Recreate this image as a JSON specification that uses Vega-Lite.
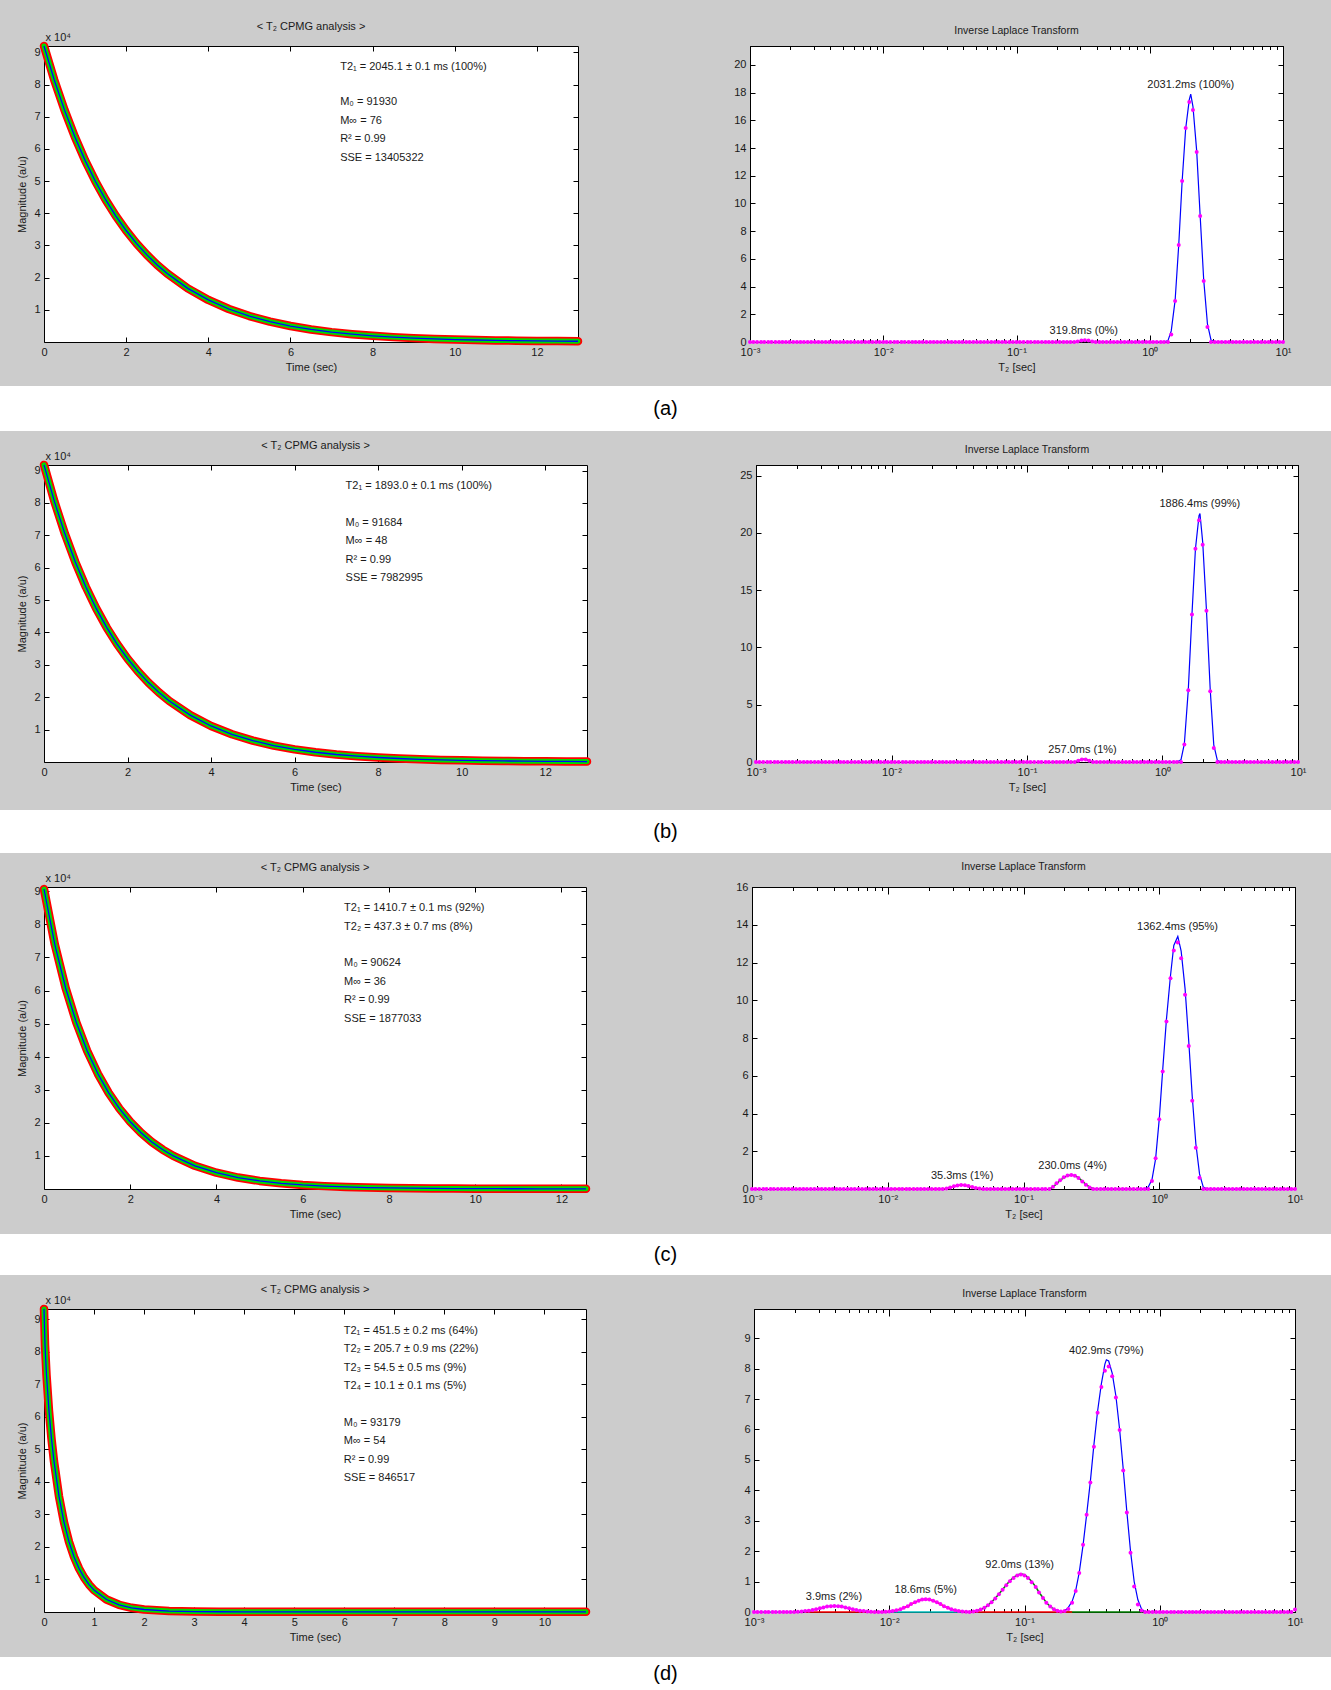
{
"$schema":"https://vega.github.io/schema/vega-lite/v6.json",
"background":"#cccccc",
"padding":{"left":0,"right":0,"top":20,"bottom":0},
"spacing":8,
"config":{
 "font":"Liberation Sans",
 "view":{"stroke":"#000000","strokeWidth":1,"fill":"#ffffff"},
 "axis":{"domain":false,"grid":false,"ticks":true,"tickColor":"#000000","tickWidth":1,"tickSize":-5,"labelPadding":9,"labelFontSize":11,"labelColor":"#1a1a1a","titleFontSize":11,"titleFontWeight":"normal","titleColor":"#1a1a1a","labelFlush":false,"labelOverlap":false},
 "title":{"fontSize":11,"fontWeight":"normal","color":"#1a1a1a"}
},
"datasets":{
"dec_a":[{"t":0,"v":92006},{"t":0.25,"v":81428},{"t":0.5,"v":72066},{"t":0.75,"v":63782},{"t":1,"v":56451},{"t":1.25,"v":49964},{"t":1.5,"v":44223},{"t":1.75,"v":39143},{"t":2,"v":34648},{"t":2.25,"v":30670},{"t":2.5,"v":27149},{"t":2.75,"v":24034},{"t":3,"v":21277},{"t":3.5,"v":16678},{"t":4,"v":13077},{"t":4.5,"v":10257},{"t":5,"v":8049},{"t":5.5,"v":6320},{"t":6,"v":4965},{"t":6.5,"v":3905},{"t":7,"v":3074},{"t":7.5,"v":2424},{"t":8,"v":1915},{"t":8.5,"v":1516},{"t":9,"v":1204},{"t":9.5,"v":959},{"t":10,"v":767},{"t":10.5,"v":617},{"t":11,"v":500},{"t":11.5,"v":408},{"t":12,"v":336},{"t":12.5,"v":280},{"t":13,"v":236}],
"dec_b":[{"t":0,"v":91732},{"t":0.25,"v":80389},{"t":0.5,"v":70449},{"t":0.75,"v":61739},{"t":1,"v":54106},{"t":1.25,"v":47418},{"t":1.5,"v":41557},{"t":1.75,"v":36421},{"t":2,"v":31921},{"t":2.25,"v":27978},{"t":2.5,"v":24522},{"t":2.75,"v":21494},{"t":3,"v":18841},{"t":3.5,"v":14478},{"t":4,"v":11128},{"t":4.5,"v":8556},{"t":5,"v":6581},{"t":5.5,"v":5064},{"t":6,"v":3900},{"t":6.5,"v":3006},{"t":7,"v":2319},{"t":7.5,"v":1792},{"t":8,"v":1387},{"t":8.5,"v":1076},{"t":9,"v":838},{"t":9.5,"v":654},{"t":10,"v":514},{"t":10.5,"v":405},{"t":11,"v":322},{"t":11.5,"v":259},{"t":12,"v":210},{"t":12.5,"v":172},{"t":13,"v":143}],
"dec_c":[{"t":0,"v":90660},{"t":0.25,"v":73963},{"t":0.5,"v":60842},{"t":0.75,"v":50336},{"t":1,"v":41813},{"t":1.25,"v":34827},{"t":1.5,"v":29065},{"t":1.75,"v":24287},{"t":2,"v":20313},{"t":2.25,"v":16999},{"t":2.5,"v":14234},{"t":2.75,"v":11921},{"t":3,"v":9988},{"t":3.5,"v":7015},{"t":4,"v":4932},{"t":4.5,"v":3470},{"t":5,"v":2445},{"t":5.5,"v":1726},{"t":6,"v":1222},{"t":6.5,"v":868},{"t":7,"v":620},{"t":7.5,"v":446},{"t":8,"v":323},{"t":8.5,"v":238},{"t":9,"v":178},{"t":9.5,"v":135},{"t":10,"v":106},{"t":10.5,"v":85},{"t":11,"v":70},{"t":11.5,"v":60},{"t":12,"v":53},{"t":12.57,"v":47}],
"dec_d":[{"t":0,"v":93233},{"t":0.02,"v":82158},{"t":0.05,"v":72897},{"t":0.1,"v":61787},{"t":0.15,"v":53253},{"t":0.2,"v":46316},{"t":0.3,"v":35541},{"t":0.4,"v":27580},{"t":0.5,"v":21562},{"t":0.6,"v":16953},{"t":0.7,"v":13388},{"t":0.8,"v":10614},{"t":0.9,"v":8437},{"t":1,"v":6725},{"t":1.25,"v":3844},{"t":1.5,"v":2218},{"t":1.75,"v":1295},{"t":2,"v":765},{"t":2.5,"v":289},{"t":3,"v":132},{"t":3.5,"v":80},{"t":4,"v":62},{"t":5,"v":55},{"t":6,"v":54},{"t":7,"v":54},{"t":8,"v":54},{"t":9,"v":54},{"t":10,"v":54},{"t":10.83,"v":54}],
"ilt_a":[
{"t":0.001,"m":0},{"t":0.00106,"m":0},{"t":0.00113,"m":0},{"t":0.00121,"m":0},{"t":0.00128,"m":0},{"t":0.00137,"m":0},{"t":0.00145,"m":0},{"t":0.00155,"m":0},{"t":0.00165,"m":0},{"t":0.00175,"m":0},{"t":0.00186,"m":0},{"t":0.00198,"m":0},{"t":0.00211,"m":0},{"t":0.00225,"m":0},{"t":0.00239,"m":0},{"t":0.00254,"m":0},{"t":0.00271,"m":0},{"t":0.00288,"m":0},{"t":0.00307,"m":0},{"t":0.00326,"m":0},{"t":0.00347,"m":0},{"t":0.0037,"m":0},{"t":0.00393,"m":0},{"t":0.00419,"m":0},{"t":0.00445,"m":0},{"t":0.00474,"m":0},{"t":0.00505,"m":0},{"t":0.00537,"m":0},{"t":0.00571,"m":0},{"t":0.00608,"m":0},{"t":0.00647,"m":0},{"t":0.00689,"m":0},{"t":0.00733,"m":0},{"t":0.0078,"m":0},{"t":0.0083,"m":0},{"t":0.00884,"m":0},{"t":0.0094,"m":0},
{"t":0.01,"m":0},{"t":0.0106,"m":0},{"t":0.0113,"m":0},{"t":0.0121,"m":0},{"t":0.0128,"m":0},{"t":0.0137,"m":0},{"t":0.0145,"m":0},{"t":0.0155,"m":0},{"t":0.0165,"m":0},{"t":0.0175,"m":0},{"t":0.0186,"m":0},{"t":0.0198,"m":0},{"t":0.0211,"m":0},{"t":0.0225,"m":0},{"t":0.0239,"m":0},{"t":0.0254,"m":0},{"t":0.0271,"m":0},{"t":0.0288,"m":0},{"t":0.0307,"m":0},{"t":0.0326,"m":0},{"t":0.0347,"m":0},{"t":0.037,"m":0},{"t":0.0393,"m":0},{"t":0.0419,"m":0},{"t":0.0445,"m":0},{"t":0.0474,"m":0},{"t":0.0505,"m":0},{"t":0.0537,"m":0},{"t":0.0571,"m":0},{"t":0.0608,"m":0},{"t":0.0647,"m":0},{"t":0.0689,"m":0},{"t":0.0733,"m":0},{"t":0.078,"m":0},{"t":0.083,"m":0},{"t":0.0884,"m":0},{"t":0.094,"m":0},
{"t":0.1,"m":0},{"t":0.106,"m":0},{"t":0.113,"m":0},{"t":0.121,"m":0},{"t":0.128,"m":0},{"t":0.137,"m":0},{"t":0.145,"m":0},{"t":0.155,"m":0},{"t":0.165,"m":0},{"t":0.175,"m":0},{"t":0.186,"m":0},
{"t":0.198,"m":0,"c2":0},{"t":0.211,"m":0,"c2":0},{"t":0.225,"m":0,"c2":0},{"t":0.239,"m":0,"c2":0},{"t":0.254,"m":0,"c2":0},{"t":0.271,"m":0,"c2":0},{"t":0.288,"m":0.04,"c2":0},{"t":0.307,"m":0.1,"c2":0.05},{"t":0.326,"m":0.12,"c2":0.06},{"t":0.347,"m":0.1,"c2":0.05},{"t":0.37,"m":0.04,"c2":0},{"t":0.393,"m":0,"c2":0},{"t":0.419,"m":0,"c2":0},{"t":0.445,"m":0,"c2":0},{"t":0.474,"m":0,"c2":0},{"t":0.505,"m":0,"c2":0},{"t":0.537,"m":0},
{"t":0.571,"m":0,"c1":0},{"t":0.608,"m":0,"c1":0},{"t":0.647,"m":0,"c1":0},{"t":0.689,"m":0,"c1":0},{"t":0.733,"m":0,"c1":0},{"t":0.78,"m":0,"c1":0},{"t":0.83,"m":0,"c1":0},{"t":0.884,"m":0,"c1":0},{"t":0.94,"m":0,"c1":0},
{"t":1,"m":0,"c1":0},{"t":1.06,"m":0,"c1":0},{"t":1.13,"m":0,"c1":0},{"t":1.21,"m":0,"c1":0},{"t":1.28,"m":0,"c1":0},{"t":1.37,"m":0,"c1":0.1},{"t":1.45,"m":0.55,"c1":0.8},{"t":1.55,"m":2.96,"c1":3.0},{"t":1.65,"m":7.0,"c1":7.0},{"t":1.75,"m":11.62,"c1":11.6},{"t":1.86,"m":15.45,"c1":15.4},{"t":1.98,"m":17.33,"c1":17.5},{"t":2.03,"c1":17.9},{"t":2.11,"m":16.75,"c1":17.0},{"t":2.25,"m":13.72,"c1":13.8},{"t":2.39,"m":9.1,"c1":9.1},{"t":2.54,"m":4.4,"c1":4.5},{"t":2.71,"m":1.08,"c1":1.3},{"t":2.88,"m":0,"c1":0.15},{"t":3.07,"m":0,"c1":0},{"t":3.26,"m":0,"c1":0},{"t":3.47,"m":0,"c1":0},{"t":3.7,"m":0,"c1":0},{"t":3.93,"m":0,"c1":0},{"t":4.19,"m":0,"c1":0},{"t":4.45,"m":0,"c1":0},{"t":4.74,"m":0,"c1":0},{"t":5.05,"m":0,"c1":0},{"t":5.37,"m":0,"c1":0},{"t":5.71,"m":0,"c1":0},{"t":6.08,"m":0,"c1":0},{"t":6.47,"m":0,"c1":0},{"t":6.89,"m":0,"c1":0},{"t":7.33,"m":0},{"t":7.8,"m":0},{"t":8.3,"m":0},{"t":8.84,"m":0},{"t":9.4,"m":0},{"t":10,"m":0}],
"ilt_b":[
{"t":0.001,"m":0},{"t":0.00106,"m":0},{"t":0.00113,"m":0},{"t":0.00121,"m":0},{"t":0.00128,"m":0},{"t":0.00137,"m":0},{"t":0.00145,"m":0},{"t":0.00155,"m":0},{"t":0.00165,"m":0},{"t":0.00175,"m":0},{"t":0.00186,"m":0},{"t":0.00198,"m":0},{"t":0.00211,"m":0},{"t":0.00225,"m":0},{"t":0.00239,"m":0},{"t":0.00254,"m":0},{"t":0.00271,"m":0},{"t":0.00288,"m":0},{"t":0.00307,"m":0},{"t":0.00326,"m":0},{"t":0.00347,"m":0},{"t":0.0037,"m":0},{"t":0.00393,"m":0},{"t":0.00419,"m":0},{"t":0.00445,"m":0},{"t":0.00474,"m":0},{"t":0.00505,"m":0},{"t":0.00537,"m":0},{"t":0.00571,"m":0},{"t":0.00608,"m":0},{"t":0.00647,"m":0},{"t":0.00689,"m":0},{"t":0.00733,"m":0},{"t":0.0078,"m":0},{"t":0.0083,"m":0},{"t":0.00884,"m":0},{"t":0.0094,"m":0},
{"t":0.01,"m":0},{"t":0.0106,"m":0},{"t":0.0113,"m":0},{"t":0.0121,"m":0},{"t":0.0128,"m":0},{"t":0.0137,"m":0},{"t":0.0145,"m":0},{"t":0.0155,"m":0},{"t":0.0165,"m":0},{"t":0.0175,"m":0},{"t":0.0186,"m":0},{"t":0.0198,"m":0},{"t":0.0211,"m":0},{"t":0.0225,"m":0},{"t":0.0239,"m":0},{"t":0.0254,"m":0},{"t":0.0271,"m":0},{"t":0.0288,"m":0},{"t":0.0307,"m":0},{"t":0.0326,"m":0},{"t":0.0347,"m":0},{"t":0.037,"m":0},{"t":0.0393,"m":0},{"t":0.0419,"m":0},{"t":0.0445,"m":0},{"t":0.0474,"m":0},{"t":0.0505,"m":0},{"t":0.0537,"m":0},{"t":0.0571,"m":0},{"t":0.0608,"m":0},{"t":0.0647,"m":0},{"t":0.0689,"m":0},{"t":0.0733,"m":0},{"t":0.078,"m":0},{"t":0.083,"m":0},{"t":0.0884,"m":0},{"t":0.094,"m":0},
{"t":0.1,"m":0},{"t":0.106,"m":0},{"t":0.113,"m":0},{"t":0.121,"m":0},{"t":0.128,"m":0},{"t":0.137,"m":0},{"t":0.145,"m":0},
{"t":0.155,"m":0,"c2":0},{"t":0.165,"m":0,"c2":0},{"t":0.175,"m":0,"c2":0},{"t":0.186,"m":0,"c2":0},{"t":0.198,"m":0,"c2":0},{"t":0.211,"m":0,"c2":0},{"t":0.225,"m":0,"c2":0},{"t":0.239,"m":0.1,"c2":0.1},{"t":0.254,"m":0.22,"c2":0.24},{"t":0.271,"m":0.22,"c2":0.24},{"t":0.288,"m":0.1,"c2":0.1},{"t":0.307,"m":0,"c2":0},{"t":0.326,"m":0,"c2":0},{"t":0.347,"m":0,"c2":0},{"t":0.37,"m":0,"c2":0},{"t":0.393,"m":0,"c2":0},{"t":0.419,"m":0,"c2":0},
{"t":0.445,"m":0},{"t":0.474,"m":0},{"t":0.505,"m":0},{"t":0.537,"m":0},{"t":0.571,"m":0},{"t":0.608,"m":0},{"t":0.647,"m":0},
{"t":0.689,"m":0,"c1":0},{"t":0.733,"m":0,"c1":0},{"t":0.78,"m":0,"c1":0},{"t":0.83,"m":0,"c1":0},{"t":0.884,"m":0,"c1":0},{"t":0.94,"m":0,"c1":0},
{"t":1,"m":0,"c1":0},{"t":1.06,"m":0,"c1":0},{"t":1.13,"m":0,"c1":0},{"t":1.21,"m":0,"c1":0},{"t":1.28,"m":0,"c1":0},{"t":1.37,"m":0,"c1":0.2},{"t":1.45,"m":1.52,"c1":1.6},{"t":1.55,"m":6.26,"c1":6.3},{"t":1.65,"m":12.88,"c1":12.9},{"t":1.75,"m":18.62,"c1":18.6},{"t":1.86,"m":21.1,"c1":21.5},{"t":1.89,"c1":21.7},{"t":1.98,"m":18.97,"c1":19.2},{"t":2.11,"m":13.2,"c1":13.3},{"t":2.25,"m":6.18,"c1":6.3},{"t":2.39,"m":1.22,"c1":1.5},{"t":2.54,"m":0,"c1":0.15},{"t":2.71,"m":0,"c1":0},{"t":2.88,"m":0,"c1":0},{"t":3.07,"m":0,"c1":0},{"t":3.26,"m":0,"c1":0},{"t":3.47,"m":0,"c1":0},{"t":3.7,"m":0,"c1":0},{"t":3.93,"m":0,"c1":0},{"t":4.19,"m":0,"c1":0},{"t":4.45,"m":0,"c1":0},{"t":4.74,"m":0,"c1":0},{"t":5.05,"m":0,"c1":0},
{"t":5.37,"m":0},{"t":5.71,"m":0},{"t":6.08,"m":0},{"t":6.47,"m":0},{"t":6.89,"m":0},{"t":7.33,"m":0},{"t":7.8,"m":0},{"t":8.3,"m":0},{"t":8.84,"m":0},{"t":9.4,"m":0},{"t":10,"m":0}],
"ilt_c":[
{"t":0.001,"m":0},{"t":0.00106,"m":0},{"t":0.00113,"m":0},{"t":0.00121,"m":0},{"t":0.00128,"m":0},{"t":0.00137,"m":0},{"t":0.00145,"m":0},{"t":0.00155,"m":0},{"t":0.00165,"m":0},{"t":0.00175,"m":0},{"t":0.00186,"m":0},{"t":0.00198,"m":0},{"t":0.00211,"m":0},{"t":0.00225,"m":0},{"t":0.00239,"m":0},{"t":0.00254,"m":0},{"t":0.00271,"m":0},{"t":0.00288,"m":0},{"t":0.00307,"m":0},{"t":0.00326,"m":0},{"t":0.00347,"m":0},{"t":0.0037,"m":0},{"t":0.00393,"m":0},{"t":0.00419,"m":0},{"t":0.00445,"m":0},{"t":0.00474,"m":0},{"t":0.00505,"m":0},{"t":0.00537,"m":0},{"t":0.00571,"m":0},{"t":0.00608,"m":0},{"t":0.00647,"m":0},{"t":0.00689,"m":0},{"t":0.00733,"m":0},{"t":0.0078,"m":0},{"t":0.0083,"m":0},{"t":0.00884,"m":0},{"t":0.0094,"m":0},
{"t":0.01,"m":0},{"t":0.0106,"m":0,"c3":0},{"t":0.0113,"m":0,"c3":0},{"t":0.0121,"m":0,"c3":0},{"t":0.0128,"m":0,"c3":0},{"t":0.0137,"m":0,"c3":0},{"t":0.0145,"m":0,"c3":0},{"t":0.0155,"m":0,"c3":0},{"t":0.0165,"m":0,"c3":0},{"t":0.0175,"m":0,"c3":0},{"t":0.0186,"m":0,"c3":0},{"t":0.0198,"m":0,"c3":0},{"t":0.0211,"m":0,"c3":0},{"t":0.0225,"m":0,"c3":0},{"t":0.0239,"m":0,"c3":0},{"t":0.0254,"m":0,"c3":0.01},{"t":0.0271,"m":0.03,"c3":0.03},{"t":0.0288,"m":0.08,"c3":0.08},{"t":0.0307,"m":0.14,"c3":0.14},{"t":0.0326,"m":0.19,"c3":0.19},{"t":0.0347,"m":0.21,"c3":0.21},{"t":0.037,"m":0.2,"c3":0.2},{"t":0.0393,"m":0.16,"c3":0.16},{"t":0.0419,"m":0.1,"c3":0.1},{"t":0.0445,"m":0.05,"c3":0.05},{"t":0.0474,"m":0.02,"c3":0.02},{"t":0.0505,"m":0,"c3":0},{"t":0.0537,"m":0,"c3":0},{"t":0.0571,"m":0,"c3":0},{"t":0.0608,"m":0,"c3":0},{"t":0.0647,"m":0,"c3":0},{"t":0.0689,"m":0,"c3":0},{"t":0.0733,"m":0,"c3":0},{"t":0.078,"m":0,"c3":0},{"t":0.083,"m":0,"c3":0},{"t":0.0884,"m":0,"c3":0},{"t":0.094,"m":0,"c3":0},
{"t":0.1,"m":0,"c3":0},{"t":0.106,"m":0,"c3":0},{"t":0.113,"m":0,"c3":0},{"t":0.121,"m":0,"c3":0},{"t":0.128,"m":0},{"t":0.137,"m":0},{"t":0.145,"m":0},
{"t":0.155,"m":0,"c2":0},{"t":0.165,"m":0.12,"c2":0.1},{"t":0.175,"m":0.3,"c2":0.28},{"t":0.186,"m":0.46,"c2":0.45},{"t":0.198,"m":0.62,"c2":0.6},{"t":0.211,"m":0.71,"c2":0.7},{"t":0.225,"m":0.74,"c2":0.74},{"t":0.239,"m":0.7,"c2":0.71},{"t":0.254,"m":0.58,"c2":0.6},{"t":0.271,"m":0.4,"c2":0.42},{"t":0.288,"m":0.22,"c2":0.24},{"t":0.307,"m":0.08,"c2":0.1},{"t":0.326,"m":0,"c2":0.03},{"t":0.347,"m":0,"c2":0},{"t":0.37,"m":0,"c2":0},{"t":0.393,"m":0,"c2":0},{"t":0.419,"m":0,"c2":0},{"t":0.445,"m":0,"c2":0},{"t":0.474,"m":0,"c2":0},{"t":0.505,"m":0,"c2":0},{"t":0.537,"m":0,"c2":0},{"t":0.571,"m":0,"c2":0},{"t":0.608,"m":0,"c2":0},{"t":0.647,"m":0,"c2":0},
{"t":0.689,"m":0},{"t":0.733,"m":0,"c1":0},{"t":0.78,"m":0,"c1":0},{"t":0.83,"m":0,"c1":0.1},{"t":0.884,"m":0.42,"c1":0.5},{"t":0.94,"m":1.63,"c1":1.6},
{"t":1,"m":3.69,"c1":3.7},{"t":1.06,"m":6.22,"c1":6.3},{"t":1.13,"m":8.87,"c1":9.0},{"t":1.21,"m":11.17,"c1":11.3},{"t":1.28,"m":12.64,"c1":12.9},{"t":1.37,"m":13.06,"c1":13.38},{"t":1.45,"m":12.23,"c1":12.6},{"t":1.55,"m":10.29,"c1":10.6},{"t":1.65,"m":7.58,"c1":7.8},{"t":1.75,"m":4.67,"c1":4.9},{"t":1.86,"m":2.19,"c1":2.4},{"t":1.98,"m":0.6,"c1":0.8},{"t":2.11,"m":0,"c1":0.1},{"t":2.25,"m":0,"c1":0},{"t":2.39,"m":0,"c1":0},{"t":2.54,"m":0,"c1":0},{"t":2.71,"m":0,"c1":0},{"t":2.88,"m":0,"c1":0},{"t":3.07,"m":0,"c1":0},{"t":3.26,"m":0,"c1":0},{"t":3.47,"m":0,"c1":0},{"t":3.7,"m":0,"c1":0},{"t":3.93,"m":0,"c1":0},{"t":4.19,"m":0,"c1":0},{"t":4.45,"m":0,"c1":0},{"t":4.74,"m":0,"c1":0},{"t":5.05,"m":0,"c1":0},{"t":5.37,"m":0,"c1":0},{"t":5.71,"m":0,"c1":0},{"t":6.08,"m":0,"c1":0},{"t":6.47,"m":0,"c1":0},
{"t":6.89,"m":0},{"t":7.33,"m":0},{"t":7.8,"m":0},{"t":8.3,"m":0},{"t":8.84,"m":0},{"t":9.4,"m":0},{"t":10,"m":0}],
"ilt_d":[
{"t":0.001,"m":0,"c4":0},{"t":0.00106,"m":0,"c4":0},{"t":0.00113,"m":0,"c4":0},{"t":0.00121,"m":0,"c4":0},{"t":0.00128,"m":0,"c4":0},{"t":0.00137,"m":0,"c4":0},{"t":0.00145,"m":0,"c4":0},{"t":0.00155,"m":0,"c4":0},{"t":0.00165,"m":0,"c4":0},{"t":0.00175,"m":0,"c4":0},{"t":0.00186,"m":0,"c4":0},{"t":0.00198,"m":0,"c4":0},{"t":0.00211,"m":0.01,"c4":0.01},{"t":0.00225,"m":0.015,"c4":0.015},
{"t":0.00239,"m":0.03,"c4":0.03,"c3":0},{"t":0.00254,"m":0.04,"c4":0.04,"c3":0},{"t":0.00271,"m":0.065,"c4":0.065,"c3":0},{"t":0.00288,"m":0.09,"c4":0.09,"c3":0},{"t":0.00307,"m":0.12,"c4":0.12,"c3":0},{"t":0.00326,"m":0.15,"c4":0.15,"c3":0},{"t":0.00347,"m":0.18,"c4":0.18,"c3":0},{"t":0.0037,"m":0.19,"c4":0.19,"c3":0},{"t":0.00393,"m":0.2,"c4":0.2,"c3":0},{"t":0.00419,"m":0.19,"c4":0.19,"c3":0},{"t":0.00445,"m":0.18,"c4":0.18,"c3":0},{"t":0.00474,"m":0.15,"c4":0.15,"c3":0},{"t":0.00505,"m":0.12,"c4":0.12,"c3":0},{"t":0.00537,"m":0.09,"c4":0.09,"c3":0},{"t":0.00571,"m":0.065,"c4":0.065,"c3":0},{"t":0.00608,"m":0.04,"c4":0.04,"c3":0},{"t":0.00647,"m":0.03,"c4":0.03,"c3":0},{"t":0.00689,"m":0.015,"c4":0.015,"c3":0},{"t":0.00733,"m":0.01,"c4":0.01,"c3":0},{"t":0.0078,"m":0,"c4":0,"c3":0},{"t":0.0083,"m":0,"c4":0,"c3":0},{"t":0.00884,"m":0,"c4":0,"c3":0},{"t":0.0094,"m":0.01,"c4":0,"c3":0.01},
{"t":0.01,"m":0.02,"c4":0,"c3":0.02},{"t":0.0106,"m":0.03,"c4":0,"c3":0.03},{"t":0.0113,"m":0.06,"c4":0,"c3":0.06},{"t":0.0121,"m":0.09,"c4":0,"c3":0.09},{"t":0.0128,"m":0.14,"c4":0,"c3":0.14},{"t":0.0137,"m":0.19,"c4":0,"c3":0.19},{"t":0.0145,"m":0.26,"c4":0,"c3":0.26},{"t":0.0155,"m":0.32,"c4":0,"c3":0.32},{"t":0.0165,"m":0.37,"c4":0,"c3":0.37},{"t":0.0175,"m":0.41,"c4":0,"c3":0.41},{"t":0.0186,"m":0.42,"c4":0,"c3":0.42},{"t":0.0198,"m":0.41,"c4":0,"c3":0.41},{"t":0.0211,"m":0.37,"c4":0,"c3":0.37},{"t":0.0225,"m":0.32,"c4":0,"c3":0.32},{"t":0.0239,"m":0.26,"c4":0,"c3":0.26},{"t":0.0254,"m":0.19,"c4":0,"c3":0.19},{"t":0.0271,"m":0.14,"c4":0,"c3":0.14},{"t":0.0288,"m":0.09,"c4":0,"c3":0.09},{"t":0.0307,"m":0.06,"c4":0,"c3":0.06},{"t":0.0326,"m":0.03,"c4":0,"c3":0.03},{"t":0.0347,"m":0.02,"c4":0,"c3":0.02},
{"t":0.037,"m":0.01,"c3":0.01},{"t":0.0393,"m":0,"c3":0},{"t":0.0419,"m":0.02,"c3":0},{"t":0.0445,"m":0.04,"c3":0,"c2":0.04},{"t":0.0474,"m":0.08,"c3":0,"c2":0.08},{"t":0.0505,"m":0.14,"c3":0,"c2":0.14},{"t":0.0537,"m":0.22,"c3":0,"c2":0.22},{"t":0.0571,"m":0.32,"c3":0,"c2":0.33},{"t":0.0608,"m":0.44,"c3":0,"c2":0.45},{"t":0.0647,"m":0.58,"c3":0,"c2":0.59},{"t":0.0689,"m":0.73,"c3":0,"c2":0.74},{"t":0.0733,"m":0.88,"c3":0,"c2":0.89},{"t":0.078,"m":1.01,"c3":0,"c2":1.03},{"t":0.083,"m":1.12,"c3":0,"c2":1.14},{"t":0.0884,"m":1.2,"c3":0,"c2":1.22},{"t":0.094,"m":1.23,"c3":0,"c2":1.26},
{"t":0.1,"m":1.2,"c3":0,"c2":1.23},{"t":0.106,"m":1.12,"c3":0,"c2":1.14},{"t":0.113,"m":0.98,"c3":0,"c2":1.0},{"t":0.121,"m":0.82,"c3":0,"c2":0.83},{"t":0.128,"m":0.64,"c3":0,"c2":0.65},{"t":0.137,"m":0.46,"c3":0,"c2":0.47},{"t":0.145,"m":0.3,"c3":0,"c2":0.31},{"t":0.155,"m":0.18,"c3":0,"c2":0.18},{"t":0.165,"m":0.09,"c3":0,"c2":0.09},{"t":0.175,"m":0.04,"c3":0,"c2":0.04},{"t":0.186,"m":0.02,"c3":0,"c2":0.01,"c1":0},{"t":0.198,"m":0.03,"c3":0,"c2":0,"c1":0.03},{"t":0.211,"m":0.1,"c3":0,"c2":0,"c1":0.15},{"t":0.225,"m":0.3,"c3":0,"c2":0,"c1":0.35},
{"t":0.239,"m":0.69,"c2":0,"c1":0.7},{"t":0.254,"m":1.28,"c2":0,"c1":1.3},{"t":0.271,"m":2.21,"c2":0,"c1":2.2},{"t":0.288,"m":3.2,"c2":0,"c1":3.2},{"t":0.307,"m":4.26,"c2":0,"c1":4.3},{"t":0.326,"m":5.43,"c2":0,"c1":5.5},{"t":0.347,"m":6.55,"c2":0,"c1":6.6},{"t":0.37,"m":7.4,"c2":0,"c1":7.5},{"t":0.393,"m":7.93,"c2":0,"c1":8.15},{"t":0.403,"c2":0,"c1":8.29},{"t":0.419,"m":8.07,"c2":0,"c1":8.25},{"t":0.445,"m":7.75,"c2":0,"c1":7.85},{"t":0.474,"m":7.05,"c2":0,"c1":7.1},{"t":0.505,"m":5.98,"c2":0,"c1":6.0},{"t":0.537,"m":4.65,"c2":0,"c1":4.7},{"t":0.571,"m":3.27,"c2":0,"c1":3.3},{"t":0.608,"m":1.95,"c2":0,"c1":2.0},{"t":0.647,"m":0.84,"c2":0,"c1":1.0},{"t":0.689,"m":0.25,"c2":0,"c1":0.4},{"t":0.733,"m":0.05,"c2":0,"c1":0.1},{"t":0.78,"m":0,"c2":0,"c1":0},{"t":0.83,"m":0,"c2":0,"c1":0},{"t":0.884,"m":0,"c2":0,"c1":0},{"t":0.94,"m":0,"c2":0,"c1":0},
{"t":1,"m":0,"c1":0},{"t":1.06,"m":0,"c1":0},{"t":1.13,"m":0,"c1":0},{"t":1.21,"m":0,"c1":0},{"t":1.28,"m":0,"c1":0},{"t":1.37,"m":0,"c1":0},{"t":1.45,"m":0,"c1":0},{"t":1.55,"m":0,"c1":0},{"t":1.65,"m":0,"c1":0},{"t":1.75,"m":0,"c1":0},{"t":1.86,"m":0,"c1":0},{"t":1.98,"m":0,"c1":0},{"t":2.11,"m":0,"c1":0},{"t":2.25,"m":0,"c1":0},{"t":2.39,"m":0,"c1":0},{"t":2.54,"m":0,"c1":0},{"t":2.71,"m":0,"c1":0},{"t":2.88,"m":0,"c1":0},{"t":3.07,"m":0,"c1":0},{"t":3.26,"m":0,"c1":0},
{"t":3.47,"m":0},{"t":3.7,"m":0},{"t":3.93,"m":0},{"t":4.19,"m":0},{"t":4.45,"m":0},{"t":4.74,"m":0},{"t":5.05,"m":0},{"t":5.37,"m":0},{"t":5.71,"m":0},{"t":6.08,"m":0},{"t":6.47,"m":0},{"t":6.89,"m":0},{"t":7.33,"m":0},{"t":7.8,"m":0},{"t":8.3,"m":0},{"t":8.84,"m":0},{"t":9.4,"m":0},{"t":10,"m":0.08}],
"pk_a":[{"t":2.0312,"v":17.9,"label":"2031.2ms (100%)"},{"t":0.3198,"v":0.12,"label":"319.8ms (0%)"}],
"pk_b":[{"t":1.8864,"v":21.7,"label":"1886.4ms (99%)"},{"t":0.257,"v":0.24,"label":"257.0ms (1%)"}],
"pk_c":[{"t":1.3624,"v":13.38,"label":"1362.4ms (95%)"},{"t":0.23,"v":0.74,"label":"230.0ms (4%)"},{"t":0.0353,"v":0.21,"label":"35.3ms (1%)"}],
"pk_d":[{"t":0.4029,"v":8.29,"label":"402.9ms (79%)"},{"t":0.092,"v":1.26,"label":"92.0ms (13%)"},{"t":0.0186,"v":0.42,"label":"18.6ms (5%)"},{"t":0.0039,"v":0.2,"label":"3.9ms (2%)"}]
},
"vconcat":[
{"hconcat":[
 {"width":1,"height":332,"view":{"stroke":null,"fill":null},"data":{"values":[]},"mark":"point"},
 {"hconcat":[
  {"width":534,"height":296,
   "title":{"text":"< T₂ CPMG analysis >","offset":-1,"frame":"group","fontSize":11},
   "data":{"name":"dec_a"},
   "layer":[
    {"mark":{"type":"line","color":"#ff0000","strokeWidth":8.5,"strokeCap":"round","strokeJoin":"round"},
     "encoding":{"x":{"field":"t","type":"quantitative","scale":{"domain":[0,13],"nice":false,"zero":false},"axis":{"orient":"bottom","values":[0,2,4,6,8,10,12],"title":"Time (sec)","titlePadding":4}},
                 "y":{"field":"v","type":"quantitative","scale":{"domain":[0,92000],"nice":false},"axis":{"orient":"left","values":[10000,20000,30000,40000,50000,60000,70000,80000,90000],"labelExpr":"format(datum.value/10000,'d')","title":"Magnitude (a/u)","titlePadding":6}}}},
    {"mark":{"type":"line","color":"#00dd00","strokeWidth":5,"strokeCap":"round","strokeJoin":"round"},
     "encoding":{"x":{"field":"t","type":"quantitative","scale":{"domain":[0,13],"nice":false,"zero":false},"axis":{"orient":"top","values":[0,2,4,6,8,10,12],"labels":false,"title":"x 10⁴","titleAngle":0,"titleX":1,"titleY":-6,"titleAlign":"left","titleBaseline":"alphabetic"}},
                 "y":{"field":"v","type":"quantitative","scale":{"domain":[0,92000],"nice":false},"axis":{"orient":"right","values":[10000,20000,30000,40000,50000,60000,70000,80000,90000],"labels":false,"title":null}}}},
    {"mark":{"type":"line","color":"#0000ff","strokeWidth":1.3},
     "encoding":{"x":{"field":"t","type":"quantitative","scale":{"domain":[0,13],"nice":false,"zero":false},"axis":null},
                 "y":{"field":"v","type":"quantitative","scale":{"domain":[0,92000],"nice":false},"axis":null}}},
    {"data":{"values":[{"text":"T2₁ = 2045.1 ± 0.1 ms (100%)"}]},
     "mark":{"type":"text","align":"left","baseline":"top","lineBreak":"\n","lineHeight":18.5,"fontSize":11,"color":"#1a1a1a"},
     "encoding":{"text":{"field":"text"},"x":{"datum":7.21,"type":"quantitative","scale":{"domain":[0,13],"nice":false,"zero":false},"axis":null},"y":{"datum":87340,"type":"quantitative","scale":{"domain":[0,92000],"nice":false},"axis":null}}},
    {"data":{"values":[{"text":"M₀ = 91930\nM∞ = 76\nR² = 0.99\nSSE = 13405322"}]},
     "mark":{"type":"text","align":"left","baseline":"top","lineBreak":"\n","lineHeight":18.5,"fontSize":11,"color":"#1a1a1a"},
     "encoding":{"text":{"field":"text"},"x":{"datum":7.21,"type":"quantitative","scale":{"domain":[0,13],"nice":false,"zero":false},"axis":null},"y":{"datum":76459,"type":"quantitative","scale":{"domain":[0,92000],"nice":false},"axis":null}}}
   ],
   "resolve":{"axis":{"x":"independent","y":"independent"}}},
  {"width":533,"height":296,
   "title":{"text":"Inverse Laplace Transform","offset":9,"frame":"group","fontSize":10.5},
   "data":{"name":"ilt_a"},
   "layer":[
    {"transform":[{"filter":"isValid(datum.c1)"}],"mark":{"type":"line","color":"#0000ff","strokeWidth":1.2},
     "encoding":{"x":{"field":"t","type":"quantitative","scale":{"type":"log","domain":[0.001,10],"nice":false},"axis":{"orient":"bottom","values":[0.001,0.002,0.003,0.004,0.005,0.006,0.007,0.008,0.009,0.01,0.02,0.03,0.04,0.05,0.06,0.07,0.08,0.09,0.1,0.2,0.3,0.4,0.5,0.6,0.7,0.8,0.9,1,2,3,4,5,6,7,8,9,10],"labelExpr":"datum.value == 0.001 ? '10⁻³' : datum.value == 0.01 ? '10⁻²' : datum.value == 0.1 ? '10⁻¹' : datum.value == 1 ? '10⁰' : datum.value == 10 ? '10¹' : ''","title":"T₂ [sec]","titlePadding":4,"tickSize":-3.5,"labelPadding":7.5}},
                 "y":{"field":"c1","type":"quantitative","scale":{"domain":[0,21.37],"nice":false},"axis":{"orient":"left","values":[0,2,4,6,8,10,12,14,16,18,20],"title":null}}}},
    {"transform":[{"filter":"isValid(datum.c2)"}],"mark":{"type":"line","color":"#008000","strokeWidth":1.5},
     "encoding":{"x":{"field":"t","type":"quantitative","scale":{"type":"log","domain":[0.001,10],"nice":false},"axis":{"orient":"top","values":[0.001,0.002,0.003,0.004,0.005,0.006,0.007,0.008,0.009,0.01,0.02,0.03,0.04,0.05,0.06,0.07,0.08,0.09,0.1,0.2,0.3,0.4,0.5,0.6,0.7,0.8,0.9,1,2,3,4,5,6,7,8,9,10],"labels":false,"title":null,"tickSize":-3.5}},
                 "y":{"field":"c2","type":"quantitative","scale":{"domain":[0,21.37],"nice":false},"axis":{"orient":"right","values":[0,2,4,6,8,10,12,14,16,18,20],"labels":false,"title":null}}}},
    {"transform":[{"filter":"isValid(datum.m)"}],"mark":{"type":"point","filled":true,"color":"#ff00ff","size":16,"opacity":1},
     "encoding":{"x":{"field":"t","type":"quantitative","scale":{"type":"log","domain":[0.001,10],"nice":false},"axis":{"orient":"bottom","values":[0.001,0.01,0.1,1,10],"labels":false,"title":null,"tickSize":-7}},
                 "y":{"field":"m","type":"quantitative","scale":{"domain":[0,21.37],"nice":false},"axis":null}}},
    {"data":{"name":"pk_a"},"mark":{"type":"text","baseline":"bottom","dy":-4,"fontSize":11,"color":"#1a1a1a"},
     "encoding":{"text":{"field":"label"},"x":{"field":"t","type":"quantitative","scale":{"type":"log","domain":[0.001,10],"nice":false},"axis":{"orient":"top","values":[0.001,0.01,0.1,1,10],"labels":false,"title":null,"tickSize":-7}},
                 "y":{"field":"v","type":"quantitative","scale":{"domain":[0,21.37],"nice":false},"axis":null}}}
   ],
   "resolve":{"axis":{"x":"independent","y":"independent"}}}
 ],"spacing":172,"bounds":"flush"}
],"spacing":15},
{"width":1331,"height":45,"view":{"stroke":null,"fill":"#ffffff"},"data":{"values":[{"label":"(a)"}]},"mark":{"type":"text","fontSize":20,"color":"#000000"},"encoding":{"text":{"field":"label"}}},
{"hconcat":[
 {"width":1,"height":337,"view":{"stroke":null,"fill":null},"data":{"values":[]},"mark":"point"},
 {"hconcat":[
  {"width":543,"height":297,
   "title":{"text":"< T₂ CPMG analysis >","offset":-1,"frame":"group","fontSize":11},
   "data":{"name":"dec_b"},
   "layer":[
    {"mark":{"type":"line","color":"#ff0000","strokeWidth":8.5,"strokeCap":"round","strokeJoin":"round"},
     "encoding":{"x":{"field":"t","type":"quantitative","scale":{"domain":[0,13],"nice":false,"zero":false},"axis":{"orient":"bottom","values":[0,2,4,6,8,10,12],"title":"Time (sec)","titlePadding":4}},
                 "y":{"field":"v","type":"quantitative","scale":{"domain":[0,91700],"nice":false},"axis":{"orient":"left","values":[10000,20000,30000,40000,50000,60000,70000,80000,90000],"labelExpr":"format(datum.value/10000,'d')","title":"Magnitude (a/u)","titlePadding":6}}}},
    {"mark":{"type":"line","color":"#00dd00","strokeWidth":5,"strokeCap":"round","strokeJoin":"round"},
     "encoding":{"x":{"field":"t","type":"quantitative","scale":{"domain":[0,13],"nice":false,"zero":false},"axis":{"orient":"top","values":[0,2,4,6,8,10,12],"labels":false,"title":"x 10⁴","titleAngle":0,"titleX":1,"titleY":-6,"titleAlign":"left","titleBaseline":"alphabetic"}},
                 "y":{"field":"v","type":"quantitative","scale":{"domain":[0,91700],"nice":false},"axis":{"orient":"right","values":[10000,20000,30000,40000,50000,60000,70000,80000,90000],"labels":false,"title":null}}}},
    {"mark":{"type":"line","color":"#0000ff","strokeWidth":1.3},
     "encoding":{"x":{"field":"t","type":"quantitative","scale":{"domain":[0,13],"nice":false,"zero":false},"axis":null},
                 "y":{"field":"v","type":"quantitative","scale":{"domain":[0,91700],"nice":false},"axis":null}}},
    {"data":{"values":[{"text":"T2₁ = 1893.0 ± 0.1 ms (100%)"}]},
     "mark":{"type":"text","align":"left","baseline":"top","lineBreak":"\n","lineHeight":18.5,"fontSize":11,"color":"#1a1a1a"},
     "encoding":{"text":{"field":"text"},"x":{"datum":7.22,"type":"quantitative","scale":{"domain":[0,13],"nice":false,"zero":false},"axis":null},"y":{"datum":87069,"type":"quantitative","scale":{"domain":[0,91700],"nice":false},"axis":null}}},
    {"data":{"values":[{"text":"M₀ = 91684\nM∞ = 48\nR² = 0.99\nSSE = 7982995"}]},
     "mark":{"type":"text","align":"left","baseline":"top","lineBreak":"\n","lineHeight":18.5,"fontSize":11,"color":"#1a1a1a"},
     "encoding":{"text":{"field":"text"},"x":{"datum":7.22,"type":"quantitative","scale":{"domain":[0,13],"nice":false,"zero":false},"axis":null},"y":{"datum":75645,"type":"quantitative","scale":{"domain":[0,91700],"nice":false},"axis":null}}}
   ],
   "resolve":{"axis":{"x":"independent","y":"independent"}}},
  {"width":542,"height":297,
   "title":{"text":"Inverse Laplace Transform","offset":9,"frame":"group","fontSize":10.5},
   "data":{"name":"ilt_b"},
   "layer":[
    {"transform":[{"filter":"isValid(datum.c1)"}],"mark":{"type":"line","color":"#0000ff","strokeWidth":1.2},
     "encoding":{"x":{"field":"t","type":"quantitative","scale":{"type":"log","domain":[0.001,10],"nice":false},"axis":{"orient":"bottom","values":[0.001,0.002,0.003,0.004,0.005,0.006,0.007,0.008,0.009,0.01,0.02,0.03,0.04,0.05,0.06,0.07,0.08,0.09,0.1,0.2,0.3,0.4,0.5,0.6,0.7,0.8,0.9,1,2,3,4,5,6,7,8,9,10],"labelExpr":"datum.value == 0.001 ? '10⁻³' : datum.value == 0.01 ? '10⁻²' : datum.value == 0.1 ? '10⁻¹' : datum.value == 1 ? '10⁰' : datum.value == 10 ? '10¹' : ''","title":"T₂ [sec]","titlePadding":4,"tickSize":-3.5,"labelPadding":7.5}},
                 "y":{"field":"c1","type":"quantitative","scale":{"domain":[0,25.93],"nice":false},"axis":{"orient":"left","values":[0,5,10,15,20,25],"title":null}}}},
    {"transform":[{"filter":"isValid(datum.c2)"}],"mark":{"type":"line","color":"#008000","strokeWidth":1.5},
     "encoding":{"x":{"field":"t","type":"quantitative","scale":{"type":"log","domain":[0.001,10],"nice":false},"axis":{"orient":"top","values":[0.001,0.002,0.003,0.004,0.005,0.006,0.007,0.008,0.009,0.01,0.02,0.03,0.04,0.05,0.06,0.07,0.08,0.09,0.1,0.2,0.3,0.4,0.5,0.6,0.7,0.8,0.9,1,2,3,4,5,6,7,8,9,10],"labels":false,"title":null,"tickSize":-3.5}},
                 "y":{"field":"c2","type":"quantitative","scale":{"domain":[0,25.93],"nice":false},"axis":{"orient":"right","values":[0,5,10,15,20,25],"labels":false,"title":null}}}},
    {"transform":[{"filter":"isValid(datum.m)"}],"mark":{"type":"point","filled":true,"color":"#ff00ff","size":16,"opacity":1},
     "encoding":{"x":{"field":"t","type":"quantitative","scale":{"type":"log","domain":[0.001,10],"nice":false},"axis":{"orient":"bottom","values":[0.001,0.01,0.1,1,10],"labels":false,"title":null,"tickSize":-7}},
                 "y":{"field":"m","type":"quantitative","scale":{"domain":[0,25.93],"nice":false},"axis":null}}},
    {"data":{"name":"pk_b"},"mark":{"type":"text","baseline":"bottom","dy":-4,"fontSize":11,"color":"#1a1a1a"},
     "encoding":{"text":{"field":"label"},"x":{"field":"t","type":"quantitative","scale":{"type":"log","domain":[0.001,10],"nice":false},"axis":{"orient":"top","values":[0.001,0.01,0.1,1,10],"labels":false,"title":null,"tickSize":-7}},
                 "y":{"field":"v","type":"quantitative","scale":{"domain":[0,25.93],"nice":false},"axis":null}}}
   ],
   "resolve":{"axis":{"x":"independent","y":"independent"}}}
 ],"spacing":169,"bounds":"flush"}
],"spacing":15},
{"width":1331,"height":43,"view":{"stroke":null,"fill":"#ffffff"},"data":{"values":[{"label":"(b)"}]},"mark":{"type":"text","fontSize":20,"color":"#000000"},"encoding":{"text":{"field":"label"}}},
{"hconcat":[
 {"width":1,"height":339,"view":{"stroke":null,"fill":null},"data":{"values":[]},"mark":"point"},
 {"hconcat":[
  {"width":542,"height":302,
   "title":{"text":"< T₂ CPMG analysis >","offset":-1,"frame":"group","fontSize":11},
   "data":{"name":"dec_c"},
   "layer":[
    {"mark":{"type":"line","color":"#ff0000","strokeWidth":8.5,"strokeCap":"round","strokeJoin":"round"},
     "encoding":{"x":{"field":"t","type":"quantitative","scale":{"domain":[0,12.57],"nice":false,"zero":false},"axis":{"orient":"bottom","values":[0,2,4,6,8,10,12],"title":"Time (sec)","titlePadding":4}},
                 "y":{"field":"v","type":"quantitative","scale":{"domain":[0,91300],"nice":false},"axis":{"orient":"left","values":[10000,20000,30000,40000,50000,60000,70000,80000,90000],"labelExpr":"format(datum.value/10000,'d')","title":"Magnitude (a/u)","titlePadding":6}}}},
    {"mark":{"type":"line","color":"#00dd00","strokeWidth":5,"strokeCap":"round","strokeJoin":"round"},
     "encoding":{"x":{"field":"t","type":"quantitative","scale":{"domain":[0,12.57],"nice":false,"zero":false},"axis":{"orient":"top","values":[0,2,4,6,8,10,12],"labels":false,"title":"x 10⁴","titleAngle":0,"titleX":1,"titleY":-6,"titleAlign":"left","titleBaseline":"alphabetic"}},
                 "y":{"field":"v","type":"quantitative","scale":{"domain":[0,91300],"nice":false},"axis":{"orient":"right","values":[10000,20000,30000,40000,50000,60000,70000,80000,90000],"labels":false,"title":null}}}},
    {"mark":{"type":"line","color":"#0000ff","strokeWidth":1.3},
     "encoding":{"x":{"field":"t","type":"quantitative","scale":{"domain":[0,12.57],"nice":false,"zero":false},"axis":null},
                 "y":{"field":"v","type":"quantitative","scale":{"domain":[0,91300],"nice":false},"axis":null}}},
    {"data":{"values":[{"text":"T2₁ = 1410.7 ± 0.1 ms (92%)\nT2₂ = 437.3 ± 0.7 ms (8%)"}]},
     "mark":{"type":"text","align":"left","baseline":"top","lineBreak":"\n","lineHeight":18.5,"fontSize":11,"color":"#1a1a1a"},
     "encoding":{"text":{"field":"text"},"x":{"datum":6.96,"type":"quantitative","scale":{"domain":[0,12.57],"nice":false,"zero":false},"axis":null},"y":{"datum":86765,"type":"quantitative","scale":{"domain":[0,91300],"nice":false},"axis":null}}},
    {"data":{"values":[{"text":"M₀ = 90624\nM∞ = 36\nR² = 0.99\nSSE = 1877033"}]},
     "mark":{"type":"text","align":"left","baseline":"top","lineBreak":"\n","lineHeight":18.5,"fontSize":11,"color":"#1a1a1a"},
     "encoding":{"text":{"field":"text"},"x":{"datum":6.96,"type":"quantitative","scale":{"domain":[0,12.57],"nice":false,"zero":false},"axis":null},"y":{"datum":70137,"type":"quantitative","scale":{"domain":[0,91300],"nice":false},"axis":null}}}
   ],
   "resolve":{"axis":{"x":"independent","y":"independent"}}},
  {"width":543,"height":302,
   "title":{"text":"Inverse Laplace Transform","offset":9,"frame":"group","fontSize":10.5},
   "data":{"name":"ilt_c"},
   "layer":[
    {"transform":[{"filter":"isValid(datum.c1)"}],"mark":{"type":"line","color":"#0000ff","strokeWidth":1.2},
     "encoding":{"x":{"field":"t","type":"quantitative","scale":{"type":"log","domain":[0.001,10],"nice":false},"axis":{"orient":"bottom","values":[0.001,0.002,0.003,0.004,0.005,0.006,0.007,0.008,0.009,0.01,0.02,0.03,0.04,0.05,0.06,0.07,0.08,0.09,0.1,0.2,0.3,0.4,0.5,0.6,0.7,0.8,0.9,1,2,3,4,5,6,7,8,9,10],"labelExpr":"datum.value == 0.001 ? '10⁻³' : datum.value == 0.01 ? '10⁻²' : datum.value == 0.1 ? '10⁻¹' : datum.value == 1 ? '10⁰' : datum.value == 10 ? '10¹' : ''","title":"T₂ [sec]","titlePadding":4,"tickSize":-3.5,"labelPadding":7.5}},
                 "y":{"field":"c1","type":"quantitative","scale":{"domain":[0,16],"nice":false},"axis":{"orient":"left","values":[0,2,4,6,8,10,12,14,16],"title":null}}}},
    {"transform":[{"filter":"isValid(datum.c2)"}],"mark":{"type":"line","color":"#008000","strokeWidth":1.5},
     "encoding":{"x":{"field":"t","type":"quantitative","scale":{"type":"log","domain":[0.001,10],"nice":false},"axis":{"orient":"top","values":[0.001,0.002,0.003,0.004,0.005,0.006,0.007,0.008,0.009,0.01,0.02,0.03,0.04,0.05,0.06,0.07,0.08,0.09,0.1,0.2,0.3,0.4,0.5,0.6,0.7,0.8,0.9,1,2,3,4,5,6,7,8,9,10],"labels":false,"title":null,"tickSize":-3.5}},
                 "y":{"field":"c2","type":"quantitative","scale":{"domain":[0,16],"nice":false},"axis":{"orient":"right","values":[0,2,4,6,8,10,12,14,16],"labels":false,"title":null}}}},
    {"transform":[{"filter":"isValid(datum.c3)"}],"mark":{"type":"line","color":"#ff0000","strokeWidth":1.5},
     "encoding":{"x":{"field":"t","type":"quantitative","scale":{"type":"log","domain":[0.001,10],"nice":false},"axis":null},
                 "y":{"field":"c3","type":"quantitative","scale":{"domain":[0,16],"nice":false},"axis":null}}},
    {"transform":[{"filter":"isValid(datum.m)"}],"mark":{"type":"point","filled":true,"color":"#ff00ff","size":16,"opacity":1},
     "encoding":{"x":{"field":"t","type":"quantitative","scale":{"type":"log","domain":[0.001,10],"nice":false},"axis":{"orient":"bottom","values":[0.001,0.01,0.1,1,10],"labels":false,"title":null,"tickSize":-7}},
                 "y":{"field":"m","type":"quantitative","scale":{"domain":[0,16],"nice":false},"axis":null}}},
    {"data":{"name":"pk_c"},"mark":{"type":"text","baseline":"bottom","dy":-4,"fontSize":11,"color":"#1a1a1a"},
     "encoding":{"text":{"field":"label"},"x":{"field":"t","type":"quantitative","scale":{"type":"log","domain":[0.001,10],"nice":false},"axis":{"orient":"top","values":[0.001,0.01,0.1,1,10],"labels":false,"title":null,"tickSize":-7}},
                 "y":{"field":"v","type":"quantitative","scale":{"domain":[0,16],"nice":false},"axis":null}}}
   ],
   "resolve":{"axis":{"x":"independent","y":"independent"}}}
 ],"spacing":166,"bounds":"flush"}
],"spacing":15},
{"width":1331,"height":41,"view":{"stroke":null,"fill":"#ffffff"},"data":{"values":[{"label":"(c)"}]},"mark":{"type":"text","fontSize":20,"color":"#000000"},"encoding":{"text":{"field":"label"}}},
{"hconcat":[
 {"width":1,"height":340,"view":{"stroke":null,"fill":null},"data":{"values":[]},"mark":"point"},
 {"hconcat":[
  {"width":542,"height":303,
   "title":{"text":"< T₂ CPMG analysis >","offset":-1,"frame":"group","fontSize":11},
   "data":{"name":"dec_d"},
   "layer":[
    {"mark":{"type":"line","color":"#ff0000","strokeWidth":8.5,"strokeCap":"round","strokeJoin":"round"},
     "encoding":{"x":{"field":"t","type":"quantitative","scale":{"domain":[0,10.83],"nice":false,"zero":false},"axis":{"orient":"bottom","values":[0,1,2,3,4,5,6,7,8,9,10],"title":"Time (sec)","titlePadding":4}},
                 "y":{"field":"v","type":"quantitative","scale":{"domain":[0,93200],"nice":false},"axis":{"orient":"left","values":[10000,20000,30000,40000,50000,60000,70000,80000,90000],"labelExpr":"format(datum.value/10000,'d')","title":"Magnitude (a/u)","titlePadding":6}}}},
    {"mark":{"type":"line","color":"#00dd00","strokeWidth":5,"strokeCap":"round","strokeJoin":"round"},
     "encoding":{"x":{"field":"t","type":"quantitative","scale":{"domain":[0,10.83],"nice":false,"zero":false},"axis":{"orient":"top","values":[0,1,2,3,4,5,6,7,8,9,10],"labels":false,"title":"x 10⁴","titleAngle":0,"titleX":1,"titleY":-6,"titleAlign":"left","titleBaseline":"alphabetic"}},
                 "y":{"field":"v","type":"quantitative","scale":{"domain":[0,93200],"nice":false},"axis":{"orient":"right","values":[10000,20000,30000,40000,50000,60000,70000,80000,90000],"labels":false,"title":null}}}},
    {"mark":{"type":"line","color":"#0000ff","strokeWidth":1.3},
     "encoding":{"x":{"field":"t","type":"quantitative","scale":{"domain":[0,10.83],"nice":false,"zero":false},"axis":null},
                 "y":{"field":"v","type":"quantitative","scale":{"domain":[0,93200],"nice":false},"axis":null}}},
    {"data":{"values":[{"text":"T2₁ = 451.5 ± 0.2 ms (64%)\nT2₂ = 205.7 ± 0.9 ms (22%)\nT2₃ = 54.5 ± 0.5 ms (9%)\nT2₄ = 10.1 ± 0.1 ms (5%)"}]},
     "mark":{"type":"text","align":"left","baseline":"top","lineBreak":"\n","lineHeight":18.5,"fontSize":11,"color":"#1a1a1a"},
     "encoding":{"text":{"field":"text"},"x":{"datum":5.99,"type":"quantitative","scale":{"domain":[0,10.83],"nice":false,"zero":false},"axis":null},"y":{"datum":88279,"type":"quantitative","scale":{"domain":[0,93200],"nice":false},"axis":null}}},
    {"data":{"values":[{"text":"M₀ = 93179\nM∞ = 54\nR² = 0.99\nSSE = 846517"}]},
     "mark":{"type":"text","align":"left","baseline":"top","lineBreak":"\n","lineHeight":18.5,"fontSize":11,"color":"#1a1a1a"},
     "encoding":{"text":{"field":"text"},"x":{"datum":5.99,"type":"quantitative","scale":{"domain":[0,10.83],"nice":false,"zero":false},"axis":null},"y":{"datum":59981,"type":"quantitative","scale":{"domain":[0,93200],"nice":false},"axis":null}}}
   ],
   "resolve":{"axis":{"x":"independent","y":"independent"}}},
  {"width":541,"height":303,
   "title":{"text":"Inverse Laplace Transform","offset":9,"frame":"group","fontSize":10.5},
   "data":{"name":"ilt_d"},
   "layer":[
    {"transform":[{"filter":"isValid(datum.c1)"}],"mark":{"type":"line","color":"#0000ff","strokeWidth":1.2},
     "encoding":{"x":{"field":"t","type":"quantitative","scale":{"type":"log","domain":[0.001,10],"nice":false},"axis":{"orient":"bottom","values":[0.001,0.002,0.003,0.004,0.005,0.006,0.007,0.008,0.009,0.01,0.02,0.03,0.04,0.05,0.06,0.07,0.08,0.09,0.1,0.2,0.3,0.4,0.5,0.6,0.7,0.8,0.9,1,2,3,4,5,6,7,8,9,10],"labelExpr":"datum.value == 0.001 ? '10⁻³' : datum.value == 0.01 ? '10⁻²' : datum.value == 0.1 ? '10⁻¹' : datum.value == 1 ? '10⁰' : datum.value == 10 ? '10¹' : ''","title":"T₂ [sec]","titlePadding":4,"tickSize":-3.5,"labelPadding":7.5}},
                 "y":{"field":"c1","type":"quantitative","scale":{"domain":[0,9.96],"nice":false},"axis":{"orient":"left","values":[0,1,2,3,4,5,6,7,8,9],"title":null}}}},
    {"transform":[{"filter":"isValid(datum.c2)"}],"mark":{"type":"line","color":"#008000","strokeWidth":1.5},
     "encoding":{"x":{"field":"t","type":"quantitative","scale":{"type":"log","domain":[0.001,10],"nice":false},"axis":{"orient":"top","values":[0.001,0.002,0.003,0.004,0.005,0.006,0.007,0.008,0.009,0.01,0.02,0.03,0.04,0.05,0.06,0.07,0.08,0.09,0.1,0.2,0.3,0.4,0.5,0.6,0.7,0.8,0.9,1,2,3,4,5,6,7,8,9,10],"labels":false,"title":null,"tickSize":-3.5}},
                 "y":{"field":"c2","type":"quantitative","scale":{"domain":[0,9.96],"nice":false},"axis":{"orient":"right","values":[0,1,2,3,4,5,6,7,8,9],"labels":false,"title":null}}}},
    {"transform":[{"filter":"isValid(datum.c4)"}],"mark":{"type":"line","color":"#00bfbf","strokeWidth":1.5},
     "encoding":{"x":{"field":"t","type":"quantitative","scale":{"type":"log","domain":[0.001,10],"nice":false},"axis":null},
                 "y":{"field":"c4","type":"quantitative","scale":{"domain":[0,9.96],"nice":false},"axis":null}}},
    {"transform":[{"filter":"isValid(datum.c3)"}],"mark":{"type":"line","color":"#ff0000","strokeWidth":1.5},
     "encoding":{"x":{"field":"t","type":"quantitative","scale":{"type":"log","domain":[0.001,10],"nice":false},"axis":null},
                 "y":{"field":"c3","type":"quantitative","scale":{"domain":[0,9.96],"nice":false},"axis":null}}},
    {"transform":[{"filter":"isValid(datum.m)"}],"mark":{"type":"point","filled":true,"color":"#ff00ff","size":16,"opacity":1},
     "encoding":{"x":{"field":"t","type":"quantitative","scale":{"type":"log","domain":[0.001,10],"nice":false},"axis":{"orient":"bottom","values":[0.001,0.01,0.1,1,10],"labels":false,"title":null,"tickSize":-7}},
                 "y":{"field":"m","type":"quantitative","scale":{"domain":[0,9.96],"nice":false},"axis":null}}},
    {"data":{"name":"pk_d"},"mark":{"type":"text","baseline":"bottom","dy":-4,"fontSize":11,"color":"#1a1a1a"},
     "encoding":{"text":{"field":"label"},"x":{"field":"t","type":"quantitative","scale":{"type":"log","domain":[0.001,10],"nice":false},"axis":{"orient":"top","values":[0.001,0.01,0.1,1,10],"labels":false,"title":null,"tickSize":-7}},
                 "y":{"field":"v","type":"quantitative","scale":{"domain":[0,9.96],"nice":false},"axis":null}}}
   ],
   "resolve":{"axis":{"x":"independent","y":"independent"}}}
 ],"spacing":168,"bounds":"flush"}
],"spacing":15},
{"width":1331,"height":34,"view":{"stroke":null,"fill":"#ffffff"},"data":{"values":[{"label":"(d)"}]},"mark":{"type":"text","fontSize":20,"color":"#000000"},"encoding":{"text":{"field":"label"}}}
]
}
